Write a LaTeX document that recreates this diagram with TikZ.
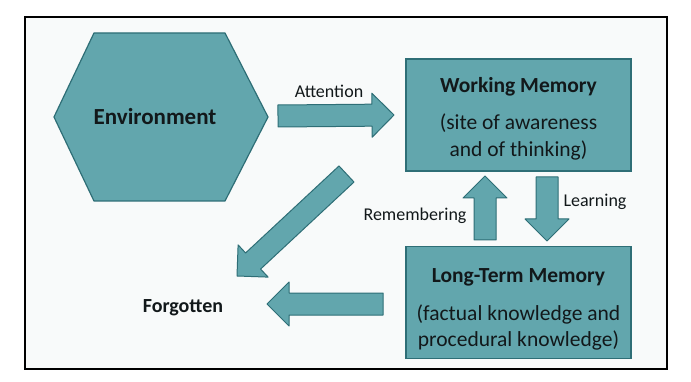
\documentclass[tikz,border=0pt]{standalone}
\usepackage{fontspec}
\setmainfont{Carlito}
\usetikzlibrary{positioning,calc}
\definecolor{tealfill}{RGB}{98,166,173}
\definecolor{tealline}{RGB}{46,110,118}
\definecolor{paper}{RGB}{248,250,250}
\definecolor{ink}{RGB}{18,24,26}
\tikzset{
  membox/.style={draw=tealline, fill=tealfill, line width=1.2pt, minimum width=225pt, minimum height=112pt},
  boxtext/.style={align=center, text=ink, font=\fontsize{21.5}{26.5}\selectfont},
  blockarr/.style={draw=tealline, fill=tealfill, line width=1pt, line join=round},
  lbl/.style={font=\fontsize{18}{21}\selectfont, text=ink},
  bigbold/.style={font=\fontsize{20}{24}\selectfont\bfseries, text=ink}
}
\newcommand{\blockarrow}[2]{%
  \coordinate (ba-h) at ($(#2)!22pt!(#1)$);
  \filldraw[blockarr] ($(#1)!11pt!90:(#2)$) -- ($(ba-h)!11pt!90:(#2)$) -- ($(ba-h)!22pt!90:(#2)$) -- (#2)
    -- ($(ba-h)!22pt!-90:(#2)$) -- ($(ba-h)!11pt!-90:(#2)$) -- ($(#1)!11pt!-90:(#2)$) -- cycle;}

\begin{document}
\begin{tikzpicture}[x=1pt,y=-1pt]
\useasboundingbox (0,0) rectangle (691,382);
\filldraw[fill=paper, draw=black, line width=1.8pt] (25,17) rectangle (667,369);

\filldraw[blockarr, line width=1.2pt] (54,117) -- (94,33) -- (225,33) -- (268,117) -- (225,201) -- (94,201) -- cycle;
\node[bigbold, font=\fontsize{23}{27}\selectfont\bfseries] (env) at (155,117) {Environment};
\node[membox] (wm) at (518.5,115) {};
\node[boxtext] (wm-txt) at ($(wm.center)+(0,3.5)$) {\textbf{Working Memory}\\[11pt](site of awareness\\and of thinking)};
\node[membox] (ltm) at (518.5,302.5) {};
\node[boxtext] (ltm-txt) at ($(ltm.center)+(0,7)$) {\textbf{Long-Term Memory}\\[11pt](factual knowledge and\\procedural knowledge)};
\node[bigbold] (forgot) at (183,308) {Forgotten};

\coordinate (att-s) at (278,116);
\coordinate (att-e) at (394,115);
\coordinate (learn-s) at (547,177);
\coordinate (learn-e) at (547,241);
\coordinate (rem-s) at (485,240);
\coordinate (rem-e) at (485,176);
\coordinate (fade-s) at (346.5,174);
\coordinate (fade-e) at (237,276);
\coordinate (lost-s) at (383,304);
\coordinate (lost-e) at (267,304);

\blockarrow{att-s}{att-e}
\blockarrow{learn-s}{learn-e}
\blockarrow{rem-s}{rem-e}
\blockarrow{fade-s}{fade-e}
\blockarrow{lost-s}{lost-e}

\node[lbl] (att) at (329,91) {Attention};
\node[lbl] (learn) at (595,202) {Learning};
\node[lbl] (rem) at (415,216) {Remembering};
\end{tikzpicture}
\end{document}
